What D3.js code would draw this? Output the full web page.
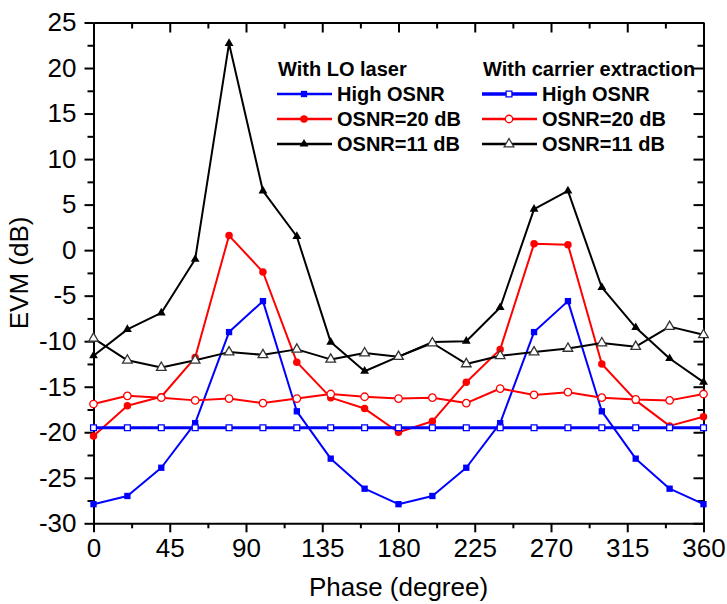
<!DOCTYPE html>
<html>
<head>
<meta charset="utf-8">
<script src="https://cdn.jsdelivr.net/npm/d3@7"></script>
<style>
  body { margin: 0; background: #fff; }
  svg { font-family: 'Liberation Sans', Arial, sans-serif; }
</style>
</head>
<body>
<div id="chart"></div>
<script>
// data, one point every 20 degrees
const phase = [0, 20, 40, 60, 80, 100, 120, 140, 160, 180, 200, 220, 240, 260, 280, 300, 320, 340, 360];

// with LO laser
const loHigh = [-27.9, -27.0, -23.9, -19.0, -9.0, -5.6, -17.7, -22.9, -26.2, -27.9, -27.0, -23.9, -19.0, -9.0, -5.6, -17.7, -22.9, -26.2, -27.9];
const lo20 = [-20.4, -17.1, -16.1, -11.8, 1.6, -2.4, -12.3, -16.2, -17.4, -20.0, -18.8, -14.5, -10.9, 0.7, 0.6, -12.5, -16.5, -19.3, -18.3];
const lo11 = [-11.6, -8.7, -6.9, -1.0, 22.7, 6.5, 1.5, -10.1, -13.3, -11.7, -10.1, -10.0, -6.3, 4.5, 6.5, -4.1, -8.5, -11.9, -14.5];

// with carrier extraction
const ceHigh = [-19.5, -19.5, -19.5, -19.5, -19.5, -19.5, -19.5, -19.5, -19.5, -19.5, -19.5, -19.5, -19.5, -19.5, -19.5, -19.5, -19.5, -19.5, -19.5];
const ce20 = [-16.9, -16.0, -16.2, -16.5, -16.3, -16.8, -16.3, -15.8, -16.1, -16.3, -16.2, -16.8, -15.2, -15.9, -15.6, -16.2, -16.4, -16.5, -15.8];
const ce11 = [-9.7, -12.1, -12.9, -12.1, -11.2, -11.5, -10.9, -12.0, -11.3, -11.7, -10.2, -12.5, -11.6, -11.2, -10.8, -10.2, -10.6, -8.4, -9.3];

const xTicks = [0, 45, 90, 135, 180, 225, 270, 315, 360];
const xMinor = [22.5, 67.5, 112.5, 157.5, 202.5, 247.5, 292.5, 337.5];
const yTicks = [-30, -25, -20, -15, -10, -5, 0, 5, 10, 15, 20, 25];
const yMinor = [-27.5, -22.5, -17.5, -12.5, -7.5, -2.5, 2.5, 7.5, 12.5, 17.5, 22.5];

const legendHeads = ['With LO laser', 'With carrier extraction'];
const legendNames = ['High OSNR', 'OSNR=20 dB', 'OSNR=11 dB'];

const width = 727, height = 604;
const margin = { top: 22.5, right: 23.5, bottom: 80.7, left: 93.5 };

const svg = d3.select('#chart').append('svg')
  .attr('width', width)
  .attr('height', height);

const x = d3.scaleLinear().domain([0, 360]).range([margin.left, width - margin.right]);
const y = d3.scaleLinear().domain([-30, 25]).range([height - margin.bottom, margin.top]);

// series settings (colour, marker, filled or not)
const series = [
  { values: loHigh, color: '#0000ff', sym: d3.symbolSquare, size: 40, open: false, lw: 2 },
  { values: lo20, color: '#ff0000', sym: d3.symbolCircle, size: 44, open: false, lw: 2 },
  { values: lo11, color: '#000000', sym: d3.symbolTriangle, size: 34, open: false, lw: 2 },
  { values: ceHigh, color: '#0000ff', sym: d3.symbolSquare, size: 34, open: true, lw: 3 },
  { values: ce20, color: '#ff0000', sym: d3.symbolCircle, size: 44, open: true, lw: 2 },
  { values: ce11, color: '#000000', sym: d3.symbolTriangle, size: 40, open: true, lw: 2 }
];

// axes --------
function styleAxis(g) {
  g.selectAll('path, line').attr('stroke', '#000').attr('stroke-width', 2);
  g.selectAll('text').attr('font-size', 26).attr('fill', '#000');
}

const bottom = height - margin.bottom;
const right = width - margin.right;
const plain = (d) => String(d); // keep a normal hyphen for negatives

svg.append('g')
  .attr('transform', `translate(0,${bottom})`)
  .call(d3.axisBottom(x).tickValues(xTicks).tickSize(9).tickSizeOuter(0).tickPadding(6).tickFormat(plain))
  .call(styleAxis);
svg.append('g')
  .attr('transform', `translate(0,${bottom})`)
  .call(d3.axisBottom(x).tickValues(xMinor).tickSize(5).tickFormat('').tickSizeOuter(0))
  .call(styleAxis)
  .call((g) => g.select('.domain').remove());

svg.append('g')
  .attr('transform', `translate(${margin.left},0)`)
  .call(d3.axisLeft(y).tickValues(yTicks).tickSize(9).tickSizeOuter(0).tickPadding(8).tickFormat(plain))
  .call(styleAxis);
svg.append('g')
  .attr('transform', `translate(${margin.left},0)`)
  .call(d3.axisLeft(y).tickValues(yMinor).tickSize(6).tickFormat('').tickSizeOuter(0))
  .call(styleAxis)
  .call((g) => g.select('.domain').remove());

// top and right: ticks point inside
svg.append('g')
  .attr('transform', `translate(0,${margin.top})`)
  .call(d3.axisTop(x).tickValues(xTicks).tickSize(-10).tickFormat('').tickSizeOuter(0))
  .call(styleAxis);
svg.append('g')
  .attr('transform', `translate(0,${margin.top})`)
  .call(d3.axisTop(x).tickValues(xMinor).tickSize(-6).tickFormat('').tickSizeOuter(0))
  .call(styleAxis)
  .call((g) => g.select('.domain').remove());
svg.append('g')
  .attr('transform', `translate(${right},0)`)
  .call(d3.axisRight(y).tickValues(yTicks).tickSize(-10).tickFormat('').tickSizeOuter(0))
  .call(styleAxis);
svg.append('g')
  .attr('transform', `translate(${right},0)`)
  .call(d3.axisRight(y).tickValues(yMinor).tickSize(-6).tickFormat('').tickSizeOuter(0))
  .call(styleAxis)
  .call((g) => g.select('.domain').remove());

// axis titles
svg.append('text')
  .attr('x', (margin.left + right) / 2)
  .attr('y', 596)
  .attr('text-anchor', 'middle')
  .attr('font-size', 26)
  .text('Phase (degree)');

svg.append('text')
  .attr('transform', `translate(28,${(margin.top + bottom) / 2}) rotate(-90)`)
  .attr('text-anchor', 'middle')
  .attr('font-size', 26)
  .text('EVM (dB)');

// lines + markers
const line = d3.line()
  .x((d, i) => x(phase[i]))
  .y((d) => y(d));

series.forEach(function (s) {
  svg.append('path')
    .datum(s.values)
    .attr('d', line)
    .attr('fill', 'none')
    .attr('stroke', s.color)
    .attr('stroke-width', s.lw)
    .attr('stroke-linejoin', 'round');

  svg.append('g').selectAll('path')
    .data(s.values)
    .join('path')
    .attr('transform', (d, i) => `translate(${x(phase[i])},${y(d)})`)
    .attr('d', d3.symbol().type(s.sym).size(s.size))
    .attr('fill', s.open ? '#fff' : s.color)
    .attr('stroke', s.open ? (s.color === '#000000' ? '#333' : s.color) : 'none')
    .attr('stroke-width', 1.3);
});

// legend (two columns)
const legendCols = [277, 482];
legendHeads.forEach(function (h, c) {
  svg.append('text')
    .attr('x', legendCols[c] + 1)
    .attr('y', 76)
    .attr('font-size', 20)
    .attr('font-weight', 'bold')
    .text(h);
});

legendNames.forEach(function (name, r) {
  [0, 1].forEach(function (c) {
    const s = series[c * 3 + r];
    const lx = legendCols[c];
    const ly = 94 + r * 25;
    svg.append('line')
      .attr('x1', lx).attr('x2', lx + 55)
      .attr('y1', ly).attr('y2', ly)
      .attr('stroke', s.color)
      .attr('stroke-width', s.lw + 0.5);
    svg.append('path')
      .attr('transform', `translate(${lx + 27},${ly})`)
      .attr('d', d3.symbol().type(s.sym).size(s.size))
      .attr('fill', s.open ? '#fff' : s.color)
      .attr('stroke', s.open ? (s.color === '#000000' ? '#333' : s.color) : 'none')
      .attr('stroke-width', 1.3);
    svg.append('text')
      .attr('x', lx + 60)
      .attr('y', ly + 7)
      .attr('font-size', 20)
      .attr('font-weight', 'bold')
      .text(name);
  });
});
</script>
</body>
</html>
